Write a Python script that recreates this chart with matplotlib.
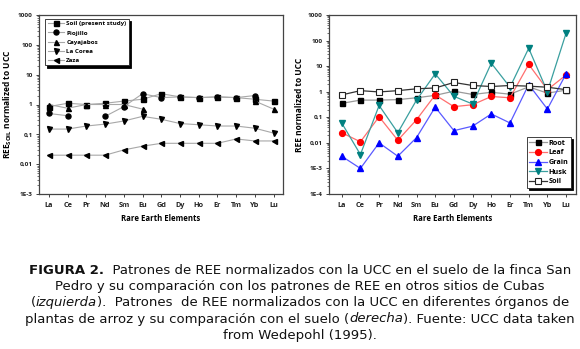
import numpy as np
import matplotlib
matplotlib.use("Agg")
import matplotlib.pyplot as plt
from matplotlib.ticker import FixedLocator, FixedFormatter, LogLocator, NullFormatter

elements = ["La", "Ce", "Pr", "Nd", "Sm", "Eu", "Gd", "Dy", "Ho", "Er", "Tm", "Yb", "Lu"]
nan = np.nan

# Left panel: soils
soil_present = [0.85, 1.1, 1.0, 1.1, 1.3, 1.5, 2.3, 1.8, 1.7, 1.8, 1.7, 1.5, 1.3]
piojillo = [0.5, 0.42, nan, 0.4, 0.85, 2.3, 1.7, 1.8, 1.7, 1.8, 1.7, 2.0, nan]
cayajabos = [1.0, 0.75, 1.0, 1.0, 1.0, 0.7, nan, nan, nan, nan, nan, 1.3, 0.7]
la_corea = [0.15, 0.15, 0.19, 0.22, 0.28, 0.4, 0.32, 0.23, 0.21, 0.19, 0.19, 0.16, 0.11]
zaza = [0.02, 0.02, 0.02, 0.02, 0.03, 0.04, 0.05, 0.05, 0.05, 0.05, 0.07, 0.06, 0.06]

# Right panel: rice organs
root = [0.35, 0.47, 0.47, 0.49, 0.58, 0.72, 1.05, 0.78, 0.95, 0.8, 1.55, 0.88, 1.15]
leaf = [0.025, 0.011, 0.105, 0.0126, 0.08, 0.75, 0.26, 0.31, 0.65, 0.58, 11.7, 1.2, 4.5]
grain = [0.003, 0.001, 0.01, 0.003, 0.016, 0.25, 0.03, 0.045, 0.135, 0.06, 1.9, 0.21, 5.0]
husk = [0.06, 0.0035, 0.29, 0.025, 0.47, 5.0, 0.66, 0.33, 13.0, 1.5, 50.0, 1.0, 195.0]
soil = [0.75, 1.1, 0.98, 1.1, 1.3, 1.4, 2.3, 1.75, 1.6, 1.75, 1.65, 1.5, 1.2]

yticks_left = [1e-3, 1e-2, 1e-1, 1, 10, 100, 1000]
ylabels_left = ["1E-3", "0,01", "0,1", "1", "10", "100", "1000"]
yticks_right = [1e-4, 1e-3, 1e-2, 1e-1, 1, 10, 100, 1000]
ylabels_right = ["1E-4", "1E-3", "0,01", "0,1", "1", "10", "100", "1000"]

FONT = "Open Sans"
W, H = 580, 349
fig = plt.figure(figsize=(W / 100, H / 100), dpi=100)

def setup(ax, ylo, ticks, labels, ylabel):
    ax.set_yscale("log")
    ax.set_ylim(ylo, 1000)
    ax.yaxis.set_major_locator(FixedLocator(ticks))
    ax.yaxis.set_major_formatter(FixedFormatter(labels))
    ax.yaxis.set_minor_locator(LogLocator(base=10, subs=np.arange(2, 10)))
    ax.yaxis.set_minor_formatter(NullFormatter())
    ax.set_xticks(range(1, 14))
    ax.set_xticklabels(elements)
    ax.tick_params(axis="both", which="major", direction="out", length=2.5, width=0.6,
                   labelsize=4.6, pad=2, colors="#222222")
    ax.tick_params(axis="y", which="minor", direction="out", length=1.3, width=0.4)
    for lab in ax.get_xticklabels() + ax.get_yticklabels():
        lab.set_fontfamily(FONT)
        lab.set_fontweight("bold")
    ax.tick_params(axis="x", labelsize=5.2, pad=3)
    for s in ax.spines.values():
        s.set_linewidth(0.9)
        s.set_color("#444444")
    ax.set_xlabel("Rare Earth Elements", fontsize=5.6, fontfamily=FONT,
                  fontweight="bold", labelpad=4)
    ax.set_ylabel(ylabel, fontsize=6, fontfamily=FONT, fontweight="bold", labelpad=3)

# Left axes
axL = fig.add_axes([39 / W, 1 - 194 / H, 244 / W, 179 / H])
x = np.arange(1, 14)
lc = "#a8a8a8"
ms = 3.6
axL.plot(x, soil_present, color=lc, lw=0.8, marker="s", mfc="k", mec="k", ms=ms, label="Soil (present study)")
axL.plot(x, piojillo, color=lc, lw=0.8, marker="o", mfc="k", mec="k", ms=ms, label="Piojillo")
axL.plot(x, cayajabos, color=lc, lw=0.8, marker="^", mfc="k", mec="k", ms=ms, label="Cayajabos")
axL.plot(x, la_corea, color=lc, lw=0.8, marker="v", mfc="k", mec="k", ms=ms, label="La Corea")
axL.plot(x, zaza, color=lc, lw=0.8, marker="<", mfc="k", mec="k", ms=ms, label="Zaza")
axL.set_xlim(0.47, 13.5)
setup(axL, 1e-3, yticks_left, ylabels_left, r"REE$_{\mathregular{SOIL}}$ normalized to UCC")
legL = axL.legend(loc="upper left", bbox_to_anchor=(0.025, 0.98), frameon=True, fancybox=False,
                  shadow={"color": "black", "alpha": 1.0, "ox": 1.5, "oy": -1.5},
                  prop={"family": FONT, "size": 4.5, "weight": "bold"},
                  handlelength=2.6, labelspacing=0.6, borderpad=0.4, handletextpad=0.4, borderaxespad=0)
legL.get_frame().set_edgecolor("#222222")
legL.get_frame().set_linewidth(0.6)

# Right axes
axR = fig.add_axes([329 / W, 1 - 194 / H, 247 / W, 179 / H])
axR.plot(x, root, color="#9a9a9a", lw=0.9, marker="s", mfc="k", mec="k", ms=3.6, label="Root")
axR.plot(x, leaf, color="#ff6f6f", lw=0.9, marker="o", mfc="#ff0000", mec="#ff0000", ms=4.2, label="Leaf")
axR.plot(x, grain, color="#5a5aff", lw=0.9, marker="^", mfc="#0000ff", mec="#0000ff", ms=4.2, label="Grain")
axR.plot(x, husk, color="#3a9f9f", lw=0.9, marker="v", mfc="#008080", mec="#008080", ms=4.2, label="Husk")
axR.plot(x, soil, color="#333333", lw=0.9, marker="s", mfc="white", mec="#222222", mew=0.8, ms=3.8, label="Soil")
axR.set_xlim(0.32, 13.53)
setup(axR, 1e-4, yticks_right, ylabels_right, "REE normalized to UCC")
legR = axR.legend(loc="lower right", bbox_to_anchor=(0.98, 0.035), frameon=True, fancybox=False,
                  shadow={"color": "black", "alpha": 1.0, "ox": 1.5, "oy": -1.5},
                  prop={"family": FONT, "size": 5.2, "weight": "bold"},
                  handlelength=2.4, labelspacing=0.35, borderpad=0.35, handletextpad=0.3, borderaxespad=0)
legR.get_frame().set_edgecolor("#222222")
legR.get_frame().set_linewidth(0.6)

# Caption with mixed styles
CAP_FONT = "DejaVu Sans"
CAP_SIZE = 9.5
lines = [
    [("FIGURA 2.", "bold", "normal"), ("  Patrones de REE normalizados con la UCC en el suelo de la finca San", "normal", "normal")],
    [("Pedro y su comparación con los patrones de REE en otros sitios de Cubas", "normal", "normal")],
    [("(", "normal", "normal"), ("izquierda", "normal", "italic"),
     (").  Patrones  de REE normalizados con la UCC en diferentes órganos de", "normal", "normal")],
    [("plantas de arroz y su comparación con el suelo (", "normal", "normal"), ("derecha", "normal", "italic"),
     ("). Fuente: UCC data taken", "normal", "normal")],
    [("from Wedepohl (1995).", "normal", "normal")],
]
line_y = [270, 286.5, 302.5, 319, 335]
center_x = 300

fig.canvas.draw()
renderer = fig.canvas.get_renderer()
for segs, yy in zip(lines, line_y):
    texts = []
    widths = []
    for s, wgt, sty in segs:
        t = fig.text(0, 1 - yy / H, s, fontsize=CAP_SIZE, family=CAP_FONT, weight=wgt, style=sty,
                     va="center", ha="left", color="#111111")
        bb = t.get_window_extent(renderer=renderer)
        texts.append(t)
        widths.append(bb.width)
    total = sum(widths)
    start = center_x - total / 2
    cur = start
    for t, w in zip(texts, widths):
        t.set_x(cur / W)
        cur += w

fig.savefig("out.png", dpi=100)
